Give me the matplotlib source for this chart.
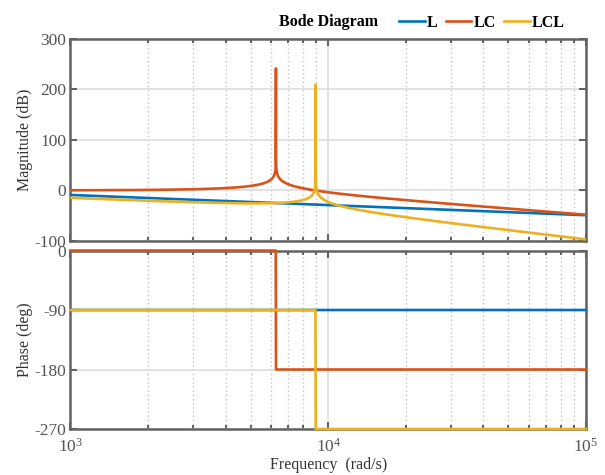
import numpy as np
import matplotlib
matplotlib.use('Agg')
import matplotlib.pyplot as plt
from matplotlib.ticker import LogLocator, FixedLocator, NullFormatter

# 読み取った回路定数 (L1, L2, C) と共振ピークの高さ
L1 = 2.82e-3
L2 = 2.73e-3
C = 9.02e-6
peak_lc_db = 241.0
peak_lcl_db = 209.0

names = ['L', 'LC', 'LCL']
colors = ['#0072BD', '#D95319', '#EDB120']

mag_ticks = [-100, 0, 100, 200, 300]
phase_ticks = [-270, -180, -90, 0]

plt.rcParams['font.family'] = ['Liberation Serif', 'DejaVu Serif']
plt.rcParams['mathtext.fontset'] = 'custom'
plt.rcParams['mathtext.rm'] = 'Liberation Serif'
plt.rcParams['mathtext.it'] = 'Liberation Serif:italic'
plt.rcParams['axes.unicode_minus'] = False
plt.rcParams['font.size'] = 11

w_lc = 1 / np.sqrt(L1 * C)
w_lcl = np.sqrt((L1 + L2) / (L1 * L2 * C))

w = np.logspace(3, 5, 2000)
w = w[(np.abs(w - w_lc) > 1e-6 * w_lc) & (np.abs(w - w_lcl) > 1e-6 * w_lcl)]

#伝達関数
s = 1j * w
H_l = 1 / (s * L1)
H_lc = 1 / (s**2 * L1 * C + 1)
H_lcl = 1 / (s**3 * L1 * L2 * C + s * (L1 + L2))

mag = [20 * np.log10(np.abs(H)) for H in (H_l, H_lc, H_lcl)]
phase = [np.full_like(w, -90.0),
         np.where(w < w_lc, 0.0, -180.0),
         np.where(w < w_lcl, -90.0, -270.0)]

# ピーク点を差し込む
ws = [w, w, w]
for i, (wr, pk) in enumerate([(w_lc, peak_lc_db), (w_lcl, peak_lcl_db)]):
    k = i + 1
    idx = np.searchsorted(w, wr)
    ws[k] = np.insert(w, idx, wr)
    mag[k] = np.insert(mag[k], idx, pk)

fig = plt.figure(figsize=(6.05, 4.75), dpi=100)
ax1 = fig.add_axes([0.1165, 0.4926, 0.852, 0.4263])
ax2 = fig.add_axes([0.1165, 0.0968, 0.852, 0.3758])

spine_col = '#636363'
text_col = '#555555'

for i in range(3):
    ax1.plot(ws[i], mag[i], color=colors[i], lw=1.9, label=names[i], zorder=3)
    ax2.plot(w, phase[i], color=colors[i], lw=1.9, zorder=3, clip_on=False)

ax1.set_ylim(-100, 300)
ax2.set_ylim(-270, 0)
ax1.set_yticks(mag_ticks)
ax2.set_yticks(phase_ticks)

for ax in (ax1, ax2):
    ax.set_xscale('log')
    ax.set_xlim(1e3, 1e5)
    ax.xaxis.set_major_locator(FixedLocator([1e3, 1e4, 1e5]))
    ax.xaxis.set_minor_locator(LogLocator(base=10, subs=np.arange(2, 10)))
    ax.xaxis.set_minor_formatter(NullFormatter())
    ax.tick_params(which='both', direction='in', top=True, right=True,
                   colors=spine_col, labelcolor=text_col, labelsize=12.5, width=1.5)
    ax.tick_params(which='major', length=5, pad=3)
    ax.tick_params(which='minor', length=3)
    for sp in ax.spines.values():
        sp.set_color(spine_col)
        sp.set_linewidth(1.8)
    ax.grid(True, which='major', color='#dddddd', lw=1.2, ls='-')
    ax.grid(True, which='minor', axis='x', color='#c4c4c4', lw=1.0, ls=(0, (1, 2)))
    ax.set_axisbelow(True)

ax1.set_xticklabels([])
ax1.set_ylabel('Magnitude (dB)', color='#333333', labelpad=1, fontsize=11.5)
ax2.set_ylabel('Phase (deg)', color='#333333', labelpad=1, fontsize=11.5)
ax2.set_xlabel('Frequency  (rad/s)', color='#333333', labelpad=1, fontsize=11.5)
ax2.tick_params(axis='x', which='major', pad=6)

ax1.set_title('Bode Diagram', fontweight='bold', fontsize=11.5, pad=9)
ax1.legend(loc='lower right', bbox_to_anchor=(0.975, 1.0), ncol=3, frameon=False,
           handlelength=1.6, handletextpad=0.15, columnspacing=0.5, borderaxespad=0.3,
           borderpad=0.2, prop={'weight': 'bold', 'size': 11.5})

fig.savefig('out.png', dpi=100)
